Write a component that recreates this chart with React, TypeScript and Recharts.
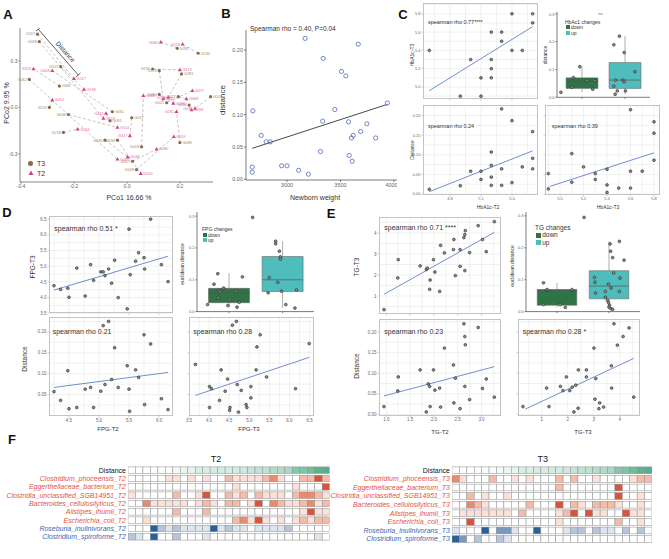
import React from 'react';
import {
  ScatterChart, Scatter, XAxis, YAxis, CartesianGrid,
  ReferenceLine, ReferenceArea, LabelList
} from 'recharts';

const FONT = '"Liberation Sans", Arial, sans-serif';

// ---- A: PCoA (T3 point i pairs with T2 point i)
const t3Id = ['G117', 'G408', 'G062', 'G155', 'G081', 'G119', 'G038', 'G061', 'G091', 'G017', 'G218', 'G016', 'G058', 'G017', 'G008', 'G018', 'G088', 'G287', 'G130', 'G295', 'G176', 'G281', 'G480', 'G021', 'G427', 'G103', 'G258'];
const t3X = [-0.338, -0.331, -0.369, -0.25, -0.255, -0.293, -0.221, -0.055, -0.064, 0.018, -0.24, -0.083, -0.036, 0.021, 0.036, 0.055, 0.2, 0.19, 0.269, 0.097, 0.122, 0.206, 0.122, 0.15, 0.194, 0.316, 0.235];
const t3Y = [0.473, 0.425, 0.181, 0.263, 0.138, 0.0, -0.046, -0.028, -0.087, -0.067, -0.162, -0.212, -0.212, -0.348, -0.402, -0.255, -0.227, 0.382, 0.35, 0.248, 0.237, 0.216, 0.084, 0.03, 0.069, 0.069, 0.015];
const t2Id = ['G217', 'G119', 'G089', 'G196', 'G209', 'G052', 'G514', 'G408', 'G441', 'G417', 'G216', 'G048', 'G100', 'G080', 'G019', 'G468', 'G285', 'G080', 'G128', 'G173', 'G021', 'G258', 'G246', 'G077', 'G068', 'G036', 'G098'];
const t2X = [-0.2, -0.089, -0.036, -0.162, -0.353, -0.282, -0.036, -0.282, -0.079, 0.011, -0.186, 0.003, 0.052, 0.112, 0.177, 0.062, 0.187, 0.128, 0.21, 0.2, 0.137, 0.156, 0.175, 0.247, 0.225, 0.257, 0.244];
const t2Y = [0.185, -0.071, -0.335, 0.116, 0.248, 0.047, -0.13, 0.237, -0.039, -0.184, -0.141, -0.32, -0.428, -0.27, -0.19, 0.075, -0.028, 0.421, 0.408, 0.242, 0.054, 0.065, 0.026, 0.108, 0.054, -0.007, -0.017];

// ---- B
const nbWeight = [2675, 2675, 2681, 2759, 2806, 2844, 2950, 3000, 3109, 3200, 3169, 3313, 3338, 3334, 3447, 3509, 3550, 3666, 3575, 3581, 3603, 3619, 3609, 3688, 3747, 3828, 3938];
const nbDist = [0.019, 0.011, 0.106, 0.068, 0.058, 0.058, 0.021, 0.021, 0.014, 0.008, 0.218, 0.043, 0.187, 0.09, 0.108, 0.167, 0.16, 0.209, 0.089, 0.037, 0.064, 0.068, 0.028, 0.074, 0.086, 0.064, 0.118];

// ---- C: HbA1c
const hbT2 = [4.6, 4.9, 5.0, 5.1, 5.1, 5.2, 5.2, 5.2, 5.2, 5.3, 5.3, 5.4, 5.4, 5.5, 5.6, 5.6];
const hbT3 = [5.4, 4.9, 5.3, 5.1, 4.9, 5.6, 5.3, 5.2, 5.1, 5.6, 5.5, 5.8, 5.4, 5.4, 5.8, 5.7];
const hbT2d = [4.6, 4.9, 5.0, 5.1, 5.1, 5.2, 5.2, 5.2, 5.2, 5.3, 5.3, 5.3, 5.4, 5.4, 5.5, 5.6, 5.6, 5.6];
const hbT2dist = [0.012, 0.021, 0.058, 0.058, 0.037, 0.107, 0.073, 0.043, 0.022, 0.217, 0.064, 0.022, 0.187, 0.029, 0.069, 0.159, 0.091, 0.064];
const hbT3d = [4.9, 4.9, 5.1, 5.1, 5.2, 5.3, 5.3, 5.4, 5.4, 5.4, 5.5, 5.6, 5.6, 5.6, 5.7, 5.8, 5.8, 5.8];
const hbT3dist = [0.052, 0.013, 0.103, 0.03, 0.069, 0.052, 0.037, 0.063, 0.023, 0.004, 0.015, 0.215, 0.058, 0.015, 0.058, 0.184, 0.155, 0.086];

// ---- D: FPG
const fpgT2 = [4.25, 4.36, 4.48, 4.5, 4.63, 4.77, 4.86, 4.91, 5.03, 5.07, 5.1, 5.16, 5.21, 5.26, 5.32, 5.47, 5.5, 5.52, 5.61, 5.66, 5.75, 5.76, 5.86, 6.04, 6.15];
const fpgT3 = [4.38, 4.26, 4.3, 4.01, 4.94, 4.05, 5.05, 4.55, 4.82, 4.82, 4.7, 4.91, 4.46, 5.19, 4.0, 3.64, 6.18, 4.73, 5.16, 5.43, 5.27, 4.91, 6.5, 5.05, 4.51];
const fpgT2d = [4.25, 4.36, 4.48, 4.5, 4.63, 4.77, 4.86, 4.91, 5.03, 5.07, 5.1, 5.16, 5.21, 5.26, 5.32, 5.47, 5.5, 5.51, 5.61, 5.66, 5.75, 5.76, 5.86, 6.04, 6.15];
const fpgT2dist = [0.057, 0.036, 0.107, 0.016, 0.019, 0.063, 0.067, 0.019, 0.058, 0.215, 0.074, 0.225, 0.086, 0.162, 0.067, 0.119, 0.063, 0.01, 0.109, 0.091, 0.193, 0.026, 0.171, 0.04, 0.014];
const fpgT3d = [3.66, 4.01, 4.06, 4.3, 4.4, 4.26, 4.46, 4.7, 4.58, 4.68, 4.8, 5.04, 5.04, 4.92, 4.94, 5.17, 5.19, 5.27, 5.43, 6.15, 6.49, 4.01, 4.52, 4.51, 4.73];
const fpgT3dist = [0.122, 0.069, 0.064, 0.109, 0.058, 0.036, 0.087, 0.074, 0.216, 0.225, 0.06, 0.069, 0.042, 0.026, 0.019, 0.109, 0.164, 0.193, 0.092, 0.064, 0.172, 0.019, 0.019, 0.012, 0.008];

// ---- E: TG
const tgT2 = [0.95, 1.24, 1.25, 1.71, 1.84, 1.86, 1.91, 1.92, 1.99, 2.02, 2.12, 2.14, 2.22, 2.41, 2.42, 2.45, 2.55, 2.55, 2.63, 2.65, 2.66, 2.65, 2.75, 2.93, 3.02, 3.1, 3.27];
const tgT3 = [0.35, 1.86, 2.73, 2.43, 2.26, 2.33, 1.32, 1.76, 2.73, 2.14, 1.22, 3.41, 3.05, 3.21, 3.69, 1.97, 2.41, 3.21, 3.78, 3.92, 4.11, 2.21, 3.07, 4.35, 3.69, 3.11, 4.54];
const tgT2d = [0.95, 1.24, 1.25, 1.71, 1.88, 1.91, 1.92, 1.99, 2.02, 2.12, 2.14, 2.22, 2.41, 2.42, 2.45, 2.55, 2.63, 2.65, 2.66, 2.65, 2.75, 2.93, 3.02, 3.1, 3.27, 1.84];
const tgT2dist = [0.019, 0.057, 0.091, 0.108, 0.074, 0.068, 0.019, 0.108, 0.059, 0.064, 0.018, 0.161, 0.12, 0.028, 0.088, 0.014, 0.22, 0.189, 0.169, 0.068, 0.036, 0.211, 0.063, 0.086, 0.042, 0.006];
const tgT3d = [0.28, 1.19, 1.28, 1.72, 1.82, 1.95, 2.08, 2.17, 2.31, 2.41, 2.4, 2.72, 2.72, 3.01, 3.08, 3.05, 3.23, 3.38, 3.2, 3.68, 3.69, 3.78, 3.91, 4.13, 4.36, 4.54, 2.24];
const tgT3dist = [0.019, 0.064, 0.019, 0.068, 0.058, 0.091, 0.058, 0.066, 0.071, 0.108, 0.015, 0.108, 0.091, 0.161, 0.087, 0.037, 0.028, 0.018, 0.014, 0.118, 0.064, 0.22, 0.168, 0.189, 0.21, 0.042, 0.006];

// ---- box plots: [q1, median, q3, lower whisker, upper whisker]
const hbDown = [0.032, 0.058, 0.07, 0.018, 0.11];
const hbUp = [0.032, 0.062, 0.125, 0.011, 0.22];
const hbDownX = [0.51, 0.76, 0.8, 0.95, 1.11, 1.3, 1.25];
const hbDownY = [0.018, 0.036, 0.071, 0.11, 0.06, 0.06, 0.029];
const hbUpX = [1.74, 1.87, 1.98, 2.23, 1.78, 1.74, 1.82, 1.77, 1.95, 1.98, 2.01];
const hbUpY = [0.189, 0.22, 0.161, 0.092, 0.062, 0.04, 0.023, 0.011, 0.062, 0.056, 0.023];

const fpgDown = [0.028, 0.059, 0.073, 0.014, 0.121];
const fpgUp = [0.063, 0.1, 0.173, 0.012, 0.221];
const fpgDownX = [0.6, 0.72, 0.79, 0.82, 0.8, 0.83, 0.9, 1.01, 0.98, 1.14, 1.15, 1.19, 1.25];
const fpgDownY = [0.022, 0.086, 0.119, 0.067, 0.044, 0.061, 0.074, 0.037, 0.019, 0.064, 0.014, 0.029, 0.109];
const fpgUpX = [1.44, 1.73, 1.75, 1.87, 1.87, 1.94, 1.96, 1.96, 1.91, 1.98, 2.06, 2.23, 2.26];
const fpgUpY = [0.296, 0.059, 0.107, 0.221, 0.213, 0.19, 0.172, 0.165, 0.092, 0.064, 0.022, 0.011, 0.068];

const tgDown = [0.02, 0.067, 0.069, 0.013, 0.09];
const tgUp = [0.04, 0.08, 0.128, 0.007, 0.22];
const tgDownX = [0.74, 0.74, 0.8, 0.81, 1.06, 1.16, 1.29];
const tgDownY = [0.09, 0.022, 0.067, 0.069, 0.022, 0.013, 0.069];
const tgUpX = [1.52, 1.72, 1.73, 1.74, 1.93, 1.93, 1.99, 2.02, 2.03, 2.07, 2.04, 2.09, 2.2, 2.21, 2.2, 2.29, 1.97, 2.01, 2.0, 2.04, 2.07, 1.99];
const tgUpY = [0.295, 0.107, 0.092, 0.058, 0.063, 0.045, 0.086, 0.212, 0.189, 0.169, 0.074, 0.121, 0.063, 0.105, 0.22, 0.161, 0.035, 0.02, 0.014, 0.009, 0.007, 0.028];

// ---- F: heatmaps (0 = none ... 4 = strongest)
const sortedDist = [0.008, 0.011, 0.014, 0.019, 0.021, 0.021, 0.028, 0.037, 0.043, 0.058, 0.058, 0.064, 0.064, 0.068, 0.068, 0.074, 0.086, 0.089, 0.09, 0.106, 0.108, 0.118, 0.16, 0.167, 0.187, 0.209, 0.218];
const taxa = ['Clostridium_phoceensis', 'Eggerthellaceae_bacterium', 'Clostridia_unclassified_SGB14951', 'Bacteroides_cellulosilyticus', 'Alistipes_ihumii', 'Escherichia_coli', 'Roseburia_inulinivorans', 'Clostridium_spiroforme'];
const heatT2 = [
  [0, 0, 0, 0, 0, 1, 1, 0, 1, 0, 1, 0, 0, 2, 1, 1, 1, 1, 2, 3, 1, 0, 0, 2, 2, 4, 2],
  [0, 0, 0, 0, 0, 0, 0, 0, 0, 0, 0, 0, 0, 0, 1, 0, 0, 0, 0, 0, 0, 0, 1, 0, 0, 0, 4],
  [1, 0, 0, 0, 0, 0, 2, 0, 0, 1, 4, 0, 0, 2, 1, 2, 0, 2, 1, 1, 1, 0, 2, 3, 3, 2, 1],
  [0, 0, 3, 1, 1, 1, 1, 1, 0, 1, 2, 1, 0, 2, 2, 0, 1, 4, 0, 3, 2, 1, 1, 2, 3, 1, 2],
  [0, 0, 0, 0, 0, 0, 2, 0, 0, 0, 2, 0, 0, 0, 0, 0, 0, 0, 0, 0, 0, 0, 0, 1, 4, 1, 1],
  [0, 0, 1, 0, 0, 0, 0, 0, 0, 0, 0, 0, 0, 0, 2, 3, 1, 4, 1, 0, 1, 0, 1, 2, 1, 2, 2],
  [0, 0, 0, 4, 2, 1, 2, 1, 1, 1, 1, 4, 1, 2, 1, 1, 0, 1, 1, 1, 1, 2, 0, 0, 0, 0, 0],
  [2, 1, 0, 4, 0, 0, 2, 0, 0, 0, 1, 0, 0, 0, 0, 0, 0, 0, 0, 0, 0, 0, 0, 0, 0, 1, 0],
];
const heatT3 = [
  [3, 1, 0, 0, 0, 2, 0, 0, 1, 0, 1, 0, 0, 0, 2, 0, 2, 0, 0, 1, 0, 0, 0, 0, 1, 2, 2],
  [0, 0, 0, 0, 0, 0, 0, 0, 0, 0, 0, 0, 0, 0, 2, 0, 0, 0, 0, 0, 0, 0, 4, 0, 0, 0, 0],
  [0, 0, 2, 0, 1, 0, 0, 1, 0, 0, 0, 0, 0, 0, 0, 0, 0, 0, 0, 0, 0, 0, 4, 0, 0, 1, 0],
  [0, 0, 3, 2, 1, 0, 0, 0, 0, 0, 2, 0, 0, 0, 4, 0, 2, 1, 0, 2, 2, 2, 1, 0, 0, 1, 0],
  [0, 1, 1, 1, 1, 1, 1, 1, 0, 2, 0, 0, 0, 0, 1, 2, 4, 0, 4, 1, 1, 0, 0, 4, 1, 1, 0],
  [0, 0, 4, 0, 0, 0, 0, 0, 0, 0, 0, 0, 0, 0, 1, 0, 0, 0, 0, 0, 0, 0, 2, 0, 0, 1, 0],
  [1, 0, 0, 0, 4, 0, 3, 3, 1, 0, 0, 4, 0, 0, 0, 1, 2, 2, 0, 2, 1, 1, 0, 2, 0, 2, 0],
  [4, 3, 0, 2, 0, 0, 2, 1, 0, 0, 0, 0, 0, 0, 0, 0, 0, 0, 0, 0, 0, 0, 0, 0, 0, 0, 0],
];

const DOWN = '#2f7445';
const UP = '#50bdbd';
const REDS = ['#ffffff', '#fbe1d8', '#f5bba8', '#ea8a6e', '#d8553b'];
const BLUES = ['#ffffff', '#dde5ee', '#b5c6da', '#7898bd', '#2a6098'];

const pts = (xs: number[], ys: number[]) => xs.map((x, i) => ({ x, y: ys[i] }));
const steps = (a: number, b: number, s: number) => {
  const out: number[] = [];
  for (let v = a; v <= b + 1e-9; v += s) out.push(+v.toFixed(4));
  return out;
};
const hex = (c: string) => [1, 3, 5].map(i => parseInt(c.slice(i, i + 2), 16));
const mix = (a: string, b: string, t: number) => {
  const A = hex(a), B = hex(b);
  return `rgb(${A.map((v, i) => Math.round(v + (B[i] - v) * t)).join(',')})`;
};

function Txt({ x, y, s = 6, c = '#333', rot = 0, a = 'middle', b = false, it = false, children }: any) {
  const tx = a === 'middle' ? '-50%' : a === 'end' ? '-100%' : '0';
  return (
    <div style={{
      position: 'absolute', left: x, top: y, transform: `translate(${tx},-50%) rotate(${rot}deg)`,
      fontSize: s, color: c, whiteSpace: 'nowrap', fontWeight: b ? 700 : 400,
      fontStyle: it ? 'italic' : 'normal', lineHeight: 1,
    }}>{children}</div>
  );
}

const Dot = (p: any) => (p.cx == null ? null :
  <circle cx={p.cx} cy={p.cy} r={1.4} fill="#8c8c8c" stroke="#262626" strokeWidth={0.6} />);

function GgPanel({ L, T, W, H, xd, yd, xt, yt, xg, yg, data, fit, showX = true, showY = true, fx, fy, fs = 4.5 }: any) {
  const YW = 14, XH = 9;
  return (
    <div style={{ position: 'absolute', left: L - YW, top: T }}>
      <ScatterChart width={W + YW} height={H + XH} margin={{ top: 0, right: 0, bottom: 0, left: 0 }}>
        <CartesianGrid stroke="#e3e3e3" strokeWidth={0.5} verticalValues={xg} horizontalValues={yg} />
        <XAxis type="number" dataKey="x" domain={xd} ticks={xt} allowDataOverflow height={XH} interval={0}
          axisLine={false} tickSize={1.5} tickMargin={1} tickLine={{ stroke: '#999', strokeWidth: 0.5 }}
          tick={{ fontSize: fs, fill: '#666' }} tickFormatter={(v: number) => (showX ? fx(v) : '')} />
        <YAxis type="number" dataKey="y" domain={yd} ticks={yt} allowDataOverflow width={YW} interval={0}
          axisLine={false} tickSize={1.5} tickMargin={1} tickLine={{ stroke: '#999', strokeWidth: 0.5 }}
          tick={{ fontSize: fs, fill: '#666' }} tickFormatter={(v: number) => (showY ? fy(v) : '')} />
        <Scatter data={data} shape={Dot} isAnimationActive={false} />
        <ReferenceLine segment={fit} stroke="#4d72c4" strokeWidth={0.8} ifOverflow="visible" />
      </ScatterChart>
      <div style={{
        position: 'absolute', left: YW, top: 0, width: W, height: H, boxSizing: 'border-box',
        border: '0.8px solid #c4c4c4', pointerEvents: 'none',
      }} />
    </div>
  );
}

function BoxPanel({ axL, top, right, bottom, xd, yd, hw, down, up, dn, upP }: any) {
  const YW = 12, XH = 4;
  const groups = [{ c: 1, s: down, f: DOWN }, { c: 2, s: up, f: UP }];
  return (
    <div style={{ position: 'absolute', left: axL - YW, top }}>
      <ScatterChart width={right - axL + YW} height={bottom - top + XH} margin={{ top: 0, right: 0, bottom: 0, left: 0 }}>
        <XAxis type="number" dataKey="x" domain={xd} ticks={[1, 2]} allowDataOverflow height={XH}
          stroke="#444" strokeWidth={0.7} tickSize={1.5} tick={{ fontSize: 1 }} tickFormatter={() => ''} />
        <YAxis type="number" dataKey="y" domain={yd} ticks={[0, 0.1, 0.2, 0.3]} allowDataOverflow width={YW}
          stroke="#444" strokeWidth={0.7} tickSize={1.5} tickMargin={1} tick={{ fontSize: 4, fill: '#666' }}
          tickFormatter={(v: number) => v.toFixed(1)} />
        {groups.map(g => (
          <ReferenceLine key={'w1' + g.c} segment={[{ x: g.c, y: g.s[3] }, { x: g.c, y: g.s[0] }]} stroke="#777" strokeWidth={0.6} ifOverflow="visible" />
        ))}
        {groups.map(g => (
          <ReferenceLine key={'w2' + g.c} segment={[{ x: g.c, y: g.s[2] }, { x: g.c, y: g.s[4] }]} stroke="#777" strokeWidth={0.6} ifOverflow="visible" />
        ))}
        {groups.map(g => (
          <ReferenceArea key={'b' + g.c} x1={g.c - hw} x2={g.c + hw} y1={g.s[0]} y2={g.s[2]} fill={g.f} fillOpacity={1} stroke="#666" strokeWidth={0.6} ifOverflow="visible" />
        ))}
        {groups.map(g => (
          <ReferenceLine key={'m' + g.c} segment={[{ x: g.c - hw, y: g.s[1] }, { x: g.c + hw, y: g.s[1] }]} stroke="#555" strokeWidth={0.7} ifOverflow="visible" />
        ))}
        <Scatter data={dn} shape={Dot} isAnimationActive={false} />
        <Scatter data={upP} shape={Dot} isAnimationActive={false} />
      </ScatterChart>
    </div>
  );
}

function BoxLegend({ x, y, title, s }: any) {
  const k = s * 0.8;
  return (
    <>
      <Txt x={x} y={y} s={s} a="start" c="#333">{title}</Txt>
      <div style={{ position: 'absolute', left: x + 1, top: y + s * 1.05 - k / 2, width: k, height: k, background: DOWN }} />
      <Txt x={x + 1 + k + 1} y={y + s * 1.05} s={s} a="start" c="#333">down</Txt>
      <div style={{ position: 'absolute', left: x + 1, top: y + s * 2.2 - k / 2, width: k, height: k, background: UP }} />
      <Txt x={x + 1 + k + 1} y={y + s * 2.2} s={s} a="start" c="#333">up</Txt>
    </>
  );
}

const heatColor = (d: any) => {
  if (d.k === 'd') return mix('#ffffff', '#4fae85', Math.min(1, Math.max(0, (d.v - 0.015) / 0.21)));
  return d.k === 'r' ? REDS[d.v] : BLUES[d.v];
};

function Heat({ left, top, labelW, W, pitch, rows, sfx }: any) {
  const names = ['Distance', ...taxa.map(t => `${t}_${sfx}`)];
  const cells: any[] = [];
  sortedDist.forEach((v, i) => cells.push({ x: i, y: 0, v, k: 'd' }));
  rows.forEach((r: number[], ri: number) => r.forEach((v, i) => cells.push({ x: i, y: ri + 1, v, k: ri < 6 ? 'r' : 'b' })));
  const cw = W / 27, ch = pitch - 1.8;
  const tick = (p: any) => {
    const i = p.payload.value;
    const col = i === 0 ? '#111' : i < 7 ? '#e5533f' : '#3d68ad';
    return (
      <text x={p.x} y={p.y} dy={2.4} textAnchor="end" fontSize={7} fill={col} fontStyle={i === 0 ? 'normal' : 'italic'}>
        {names[i]}
      </text>
    );
  };
  return (
    <div style={{ position: 'absolute', left: left - labelW, top }}>
      <ScatterChart width={W + labelW} height={pitch * 9} margin={{ top: 0, right: 0, bottom: 0, left: 0 }}>
        <XAxis type="number" dataKey="x" domain={[-0.5, 26.5]} hide allowDataOverflow />
        <YAxis type="number" dataKey="y" domain={[-0.5, 8.5]} reversed ticks={[0, 1, 2, 3, 4, 5, 6, 7, 8]} interval={0}
          width={labelW} axisLine={false} tickLine={false} tickSize={0} tickMargin={2} tick={tick} allowDataOverflow />
        <Scatter data={cells} isAnimationActive={false}
          shape={(p: any) => (p.cx == null ? null :
            <rect x={p.cx - cw / 2} y={p.cy - ch / 2} width={cw} height={ch} fill={heatColor(p.payload)} stroke="#8e8e8e" strokeWidth={0.5} />)} />
      </ScatterChart>
    </div>
  );
}

const f1 = (v: number) => v.toFixed(1);
const f2 = (v: number) => v.toFixed(2);
const f0 = (v: number) => String(v);

// sample label drawn on the side facing away from its paired point
const pairLabel = (own: number[], other: number[], fill: string) => (p: any) => {
  const i = p.index;
  if (p.x == null || i == null) return null;
  const left = own[i] < other[i];
  const cx = p.x + (p.width || 0) / 2;
  const cy = p.y + (p.height || 0) / 2;
  return (
    <text x={left ? cx - 2.5 : cx + 2.5} y={cy} dy={1.3} textAnchor={left ? 'end' : 'start'} fontSize={3.8} fill={fill}>
      {p.value}
    </text>
  );
};

export default function App() {
  const t3 = t3X.map((x, i) => ({ x, y: t3Y[i], id: t3Id[i] }));
  const t2 = t2X.map((x, i) => ({ x, y: t2Y[i], id: t2Id[i] }));
  const tri = (p: any) => (p.cx == null ? null :
    <polygon points={`${p.cx},${p.cy - 2.3} ${p.cx - 2},${p.cy + 1.3} ${p.cx + 2},${p.cy + 1.3}`} fill="#d4407c" />);
  const circ = (p: any) => (p.cx == null ? null : <circle cx={p.cx} cy={p.cy} r={1.6} fill="#8b6a47" />);
  const hollow = (p: any) => (p.cx == null ? null : <circle cx={p.cx} cy={p.cy} r={2.1} fill="none" stroke="#4a6cc0" strokeWidth={0.8} />);

  return (
    <div style={{ position: 'absolute', left: 0, top: 0, width: 669, height: 559, background: '#fff', fontFamily: FONT, overflow: 'hidden' }}>
      {/* A */}
      <div style={{ position: 'absolute', left: 2, top: 28 }}>
        <ScatterChart width={220} height={164} margin={{ top: 0, right: 9, bottom: 0, left: 0 }}>
          <XAxis type="number" dataKey="x" domain={[-0.404, 0.325]} ticks={[-0.4, -0.2, 0, 0.2]} allowDataOverflow height={10}
            stroke="#555" strokeWidth={0.7} tickSize={1.5} tickMargin={1} tick={{ fontSize: 5, fill: '#666' }} tickFormatter={f1} />
          <YAxis type="number" dataKey="y" domain={[-0.482, 0.513]} ticks={[-0.3, 0, 0.3]} allowDataOverflow width={18}
            stroke="#555" strokeWidth={0.7} tickSize={1.5} tickMargin={1} tick={{ fontSize: 5, fill: '#666' }} tickFormatter={f1} />
          {t3.map((p, i) => (
            <ReferenceLine key={i} segment={[{ x: p.x, y: p.y }, { x: t2[i].x, y: t2[i].y }]} stroke="#b5b5b5" strokeWidth={0.8} strokeDasharray="3 2" ifOverflow="visible" />
          ))}
          <ReferenceLine segment={[{ x: -0.335, y: 0.505 }, { x: -0.184, y: 0.209 }]} stroke="#333" strokeWidth={0.8} ifOverflow="visible" />
          <ReferenceLine segment={[{ x: -0.3435, y: 0.4922 }, { x: -0.3265, y: 0.5178 }]} stroke="#333" strokeWidth={0.8} ifOverflow="visible" />
          <ReferenceLine segment={[{ x: -0.1925, y: 0.1962 }, { x: -0.1755, y: 0.2218 }]} stroke="#333" strokeWidth={0.8} ifOverflow="visible" />
          <Scatter data={t3} shape={circ} isAnimationActive={false}>
            <LabelList dataKey="id" content={pairLabel(t3X, t2X, '#a3896a')} />
          </Scatter>
          <Scatter data={t2} shape={tri} isAnimationActive={false}>
            <LabelList dataKey="id" content={pairLabel(t2X, t3X, '#e0709a')} />
          </Scatter>
        </ScatterChart>
      </div>
      <Txt x={65} y={51.7} s={6.5} rot={48.8} c="#333">Distance</Txt>
      <div style={{ position: 'absolute', left: 28.4, top: 161, width: 4.6, height: 4.6, borderRadius: '50%', background: '#8b6a47' }} />
      <Txt x={37} y={163.3} s={7} a="start" c="#333">T3</Txt>
      <svg style={{ position: 'absolute', left: 28, top: 170 }} width={6} height={6}>
        <polygon points="3,0.5 0.5,5 5.5,5" fill="#d4407c" />
      </svg>
      <Txt x={37} y={173.3} s={7} a="start" c="#333">T2</Txt>
      <Txt x={129} y={197} s={7}>PCo1 16.66 %</Txt>
      <Txt x={6} y={103} s={7} rot={-90}>PCo2 9.95 %</Txt>

      {/* B */}
      <div style={{ position: 'absolute', left: 224, top: 30 }}>
        <ScatterChart width={173} height={162} margin={{ top: 0, right: 0, bottom: 0, left: 0 }}>
          <XAxis type="number" dataKey="x" domain={[2617, 4028]} ticks={[3000, 3500, 4000]} allowDataOverflow height={12}
            stroke="#444" strokeWidth={0.7} tickSize={2} tickMargin={1} tick={{ fontSize: 5.5, fill: '#666' }} tickFormatter={f0} />
          <YAxis type="number" dataKey="y" domain={[-0.001, 0.231]} ticks={[0, 0.05, 0.1, 0.15, 0.2]} allowDataOverflow width={22}
            stroke="#444" strokeWidth={0.7} tickSize={2} tickMargin={1} tick={{ fontSize: 5.5, fill: '#666' }} tickFormatter={f2} />
          <Scatter data={pts(nbWeight, nbDist)} shape={hollow} isAnimationActive={false} />
          <ReferenceLine segment={[{ x: 2675, y: 0.048 }, { x: 3938, y: 0.116 }]} stroke="#333" strokeWidth={0.9} ifOverflow="visible" />
        </ScatterChart>
      </div>
      <Txt x={250} y={29} s={6.5} a="start">Spearman rho = 0.40, P=0.04</Txt>
      <Txt x={223} y={100} s={8} rot={-90}>distance</Txt>
      <Txt x={315} y={197} s={7}>Newborn weight</Txt>

      {/* C */}
      <GgPanel L={423} T={3} W={115} H={96} xd={[4.539, 5.652]} yd={[4.869, 5.918]} xt={[4.8, 5.1, 5.4]} yt={[5.0, 5.2, 5.4, 5.6, 5.8]}
        xg={steps(4.65, 5.55, 0.15)} yg={steps(4.9, 5.9, 0.1)} data={pts(hbT2, hbT3)} fit={[{ x: 4.6, y: 4.96 }, { x: 5.6, y: 5.66 }]}
        showX={false} fx={f1} fy={f1} fs={4} />
      <GgPanel L={423} T={105} W={115} H={90} xd={[4.539, 5.652]} yd={[-0.0026, 0.227]} xt={[4.8, 5.1, 5.4]} yt={[0, 0.05, 0.1, 0.15, 0.2]}
        xg={steps(4.65, 5.55, 0.15)} yg={steps(0, 0.225, 0.025)} data={pts(hbT2d, hbT2dist)} fit={[{ x: 4.6, y: 0.006 }, { x: 5.6, y: 0.11 }]}
        fx={f1} fy={f2} fs={4} />
      <GgPanel L={545} T={105} W={115} H={90} xd={[4.872, 5.851]} yd={[-0.0026, 0.227]} xt={[5.0, 5.2, 5.4, 5.6, 5.8]} yt={[0, 0.05, 0.1, 0.15, 0.2]}
        xg={steps(4.9, 5.8, 0.1)} yg={steps(0, 0.225, 0.025)} data={pts(hbT3d, hbT3dist)} fit={[{ x: 4.91, y: 0.019 }, { x: 5.8, y: 0.105 }]}
        showY={false} fx={f1} fy={f2} fs={4} />
      <BoxPanel axL={557} top={12} right={650} bottom={97.3} xd={[0.419, 2.58]} yd={[0, 0.307]} hw={0.37}
        down={hbDown} up={hbUp} dn={pts(hbDownX, hbDownY)} upP={pts(hbUpX, hbUpY)} />
      <BoxLegend x={565} y={21.7} title="HbAc1 changes" s={5} />
      <Txt x={601} y={14} s={4} c="#666">ns.</Txt>
      <Txt x={428} y={23.3} s={5.5} a="start">spearman rho 0.77****</Txt>
      <Txt x={428} y={126.7} s={5.5} a="start">spearman rho 0.24</Txt>
      <Txt x={551.7} y={126.7} s={5.5} a="start">spearman rho 0.39</Txt>
      <Txt x={412} y={55} s={5} rot={-90}>HbA1c-T3</Txt>
      <Txt x={412} y={150} s={5} rot={-90}>Distance</Txt>
      <Txt x={545} y={55} s={5} rot={-90}>distance</Txt>
      <Txt x={488} y={207} s={5}>HbA1c-T2</Txt>
      <Txt x={608} y={207} s={5}>HbA1c-T3</Txt>

      {/* D */}
      <GgPanel L={49.3} T={216} W={124} H={97.3} xd={[4.167, 6.233]} yd={[3.5, 6.6]} xt={[4.5, 5, 5.5, 6]} yt={[3.5, 4, 4.5, 5, 5.5, 6, 6.5]}
        xg={steps(4.25, 6.25, 0.25)} yg={steps(3.5, 6.5, 0.25)} data={pts(fpgT2, fpgT3)} fit={[{ x: 4.25, y: 4.24 }, { x: 6.15, y: 5.32 }]}
        showX={false} fx={f1} fy={f1} />
      <GgPanel L={49.3} T={316.7} W={124} H={99.3} xd={[4.167, 6.233]} yd={[-0.002, 0.2356]} xt={[4.5, 5, 5.5, 6]} yt={[0.05, 0.1, 0.15, 0.2]}
        xg={steps(4.25, 6.25, 0.25)} yg={steps(0, 0.225, 0.025)} data={pts(fpgT2d, fpgT2dist)} fit={[{ x: 4.25, y: 0.067 }, { x: 6.15, y: 0.103 }]}
        fx={f1} fy={f2} />
      <GgPanel L={189.3} T={316.7} W={124.7} H={99.3} xd={[3.5, 6.602]} yd={[-0.002, 0.2356]} xt={[3.5, 4, 4.5, 5, 5.5, 6, 6.5]} yt={[0.05, 0.1, 0.15, 0.2]}
        xg={steps(3.75, 6.5, 0.25)} yg={steps(0, 0.225, 0.025)} data={pts(fpgT3d, fpgT3dist)} fit={[{ x: 3.66, y: 0.048 }, { x: 6.49, y: 0.139 }]}
        showY={false} fx={f1} fy={f2} />
      <BoxPanel axL={196.7} top={211.7} right={314} bottom={311.3} xd={[0.403, 2.591]} yd={[0, 0.313]} hw={0.382}
        down={fpgDown} up={fpgUp} dn={pts(fpgDownX, fpgDownY)} upP={pts(fpgUpX, fpgUpY)} />
      <BoxLegend x={202} y={229.3} title="FPG changes" s={5} />
      <Txt x={54.3} y={227.7} s={7} a="start">spearman rho 0.51 *</Txt>
      <Txt x={52.7} y={331} s={7} a="start">spearman rho 0.21</Txt>
      <Txt x={193.3} y={331} s={7} a="start">spearman rho 0.28</Txt>
      <Txt x={33} y={267} s={6.5} rot={-90}>FPG-T3</Txt>
      <Txt x={25} y={359} s={6.5} rot={-90}>Distance</Txt>
      <Txt x={108} y={429} s={6}>FPG-T2</Txt>
      <Txt x={249} y={429} s={6}>FPG-T3</Txt>
      <Txt x={182} y={264} s={5} rot={-90}>euclidean distance</Txt>

      {/* E */}
      <GgPanel L={379.3} T={216.7} W={121.4} H={97.3} xd={[0.845, 3.397]} yd={[0.129, 4.762]} xt={[1, 1.5, 2, 2.5, 3]} yt={[1, 2, 3, 4]}
        xg={steps(1, 3.25, 0.25)} yg={steps(0.5, 4.5, 0.5)} data={pts(tgT2, tgT3)} fit={[{ x: 0.95, y: 1.08 }, { x: 3.27, y: 4.03 }]}
        showX={false} fx={f1} fy={f0} />
      <GgPanel L={379.3} T={319.3} W={121.4} H={96.7} xd={[0.845, 3.397]} yd={[-0.003, 0.2316]} xt={[1, 1.5, 2, 2.5, 3]} yt={[0, 0.05, 0.1, 0.15, 0.2]}
        xg={steps(1, 3.25, 0.25)} yg={steps(0, 0.225, 0.025)} data={pts(tgT2d, tgT2dist)} fit={[{ x: 0.95, y: 0.045 }, { x: 3.27, y: 0.116 }]}
        fx={f1} fy={f2} />
      <GgPanel L={518.3} T={319.3} W={121.7} H={96.7} xd={[0.088, 4.769]} yd={[-0.003, 0.2316]} xt={[1, 2, 3, 4]} yt={[0, 0.05, 0.1, 0.15, 0.2]}
        xg={steps(0.5, 4.5, 0.5)} yg={steps(0, 0.225, 0.025)} data={pts(tgT3d, tgT3dist)} fit={[{ x: 0.37, y: 0.013 }, { x: 4.54, y: 0.136 }]}
        showY={false} fx={f0} fy={f2} />
      <BoxPanel axL={526} top={211.7} right={640} bottom={311.3} xd={[0.404, 2.596]} yd={[0, 0.312]} hw={0.38}
        down={tgDown} up={tgUp} dn={pts(tgDownX, tgDownY)} upP={pts(tgUpX, tgUpY)} />
      <BoxLegend x={535} y={228.3} title="TG changes" s={6.5} />
      <Txt x={384.3} y={227.3} s={7} a="start">spearman rho 0.71 ****</Txt>
      <Txt x={384.3} y={330.7} s={7} a="start">spearman rho 0.23</Txt>
      <Txt x={522.7} y={330.7} s={7} a="start">spearman rho 0.28 *</Txt>
      <Txt x={357} y={267} s={6.5} rot={-90}>TG-T3</Txt>
      <Txt x={357} y={366} s={6.5} rot={-90}>Distance</Txt>
      <Txt x={440} y={432} s={6}>TG-T2</Txt>
      <Txt x={583} y={432} s={6}>TG-T3</Txt>
      <Txt x={512} y={266} s={5} rot={-90}>euclidean distance</Txt>

      {/* F */}
      <Txt x={216} y={459} s={9} c="#222">T2</Txt>
      <Txt x={542.7} y={459} s={9} c="#222">T3</Txt>
      <Heat left={128.3} top={465.8} labelW={126} W={201.7} pitch={8.33} rows={heatT2} sfx="T2" />
      <Heat left={451.7} top={465.5} labelW={130} W={200} pitch={8.6} rows={heatT3} sfx="T3" />

      {/* panel letters */}
      <Txt x={8} y={14} s={13} b c="#111">A</Txt>
      <Txt x={226} y={13} s={13} b c="#111">B</Txt>
      <Txt x={403} y={14} s={13} b c="#111">C</Txt>
      <Txt x={7} y={212} s={13} b c="#111">D</Txt>
      <Txt x={331} y={213} s={13} b c="#111">E</Txt>
      <Txt x={12} y={439} s={13} b c="#111">F</Txt>
    </div>
  );
}
